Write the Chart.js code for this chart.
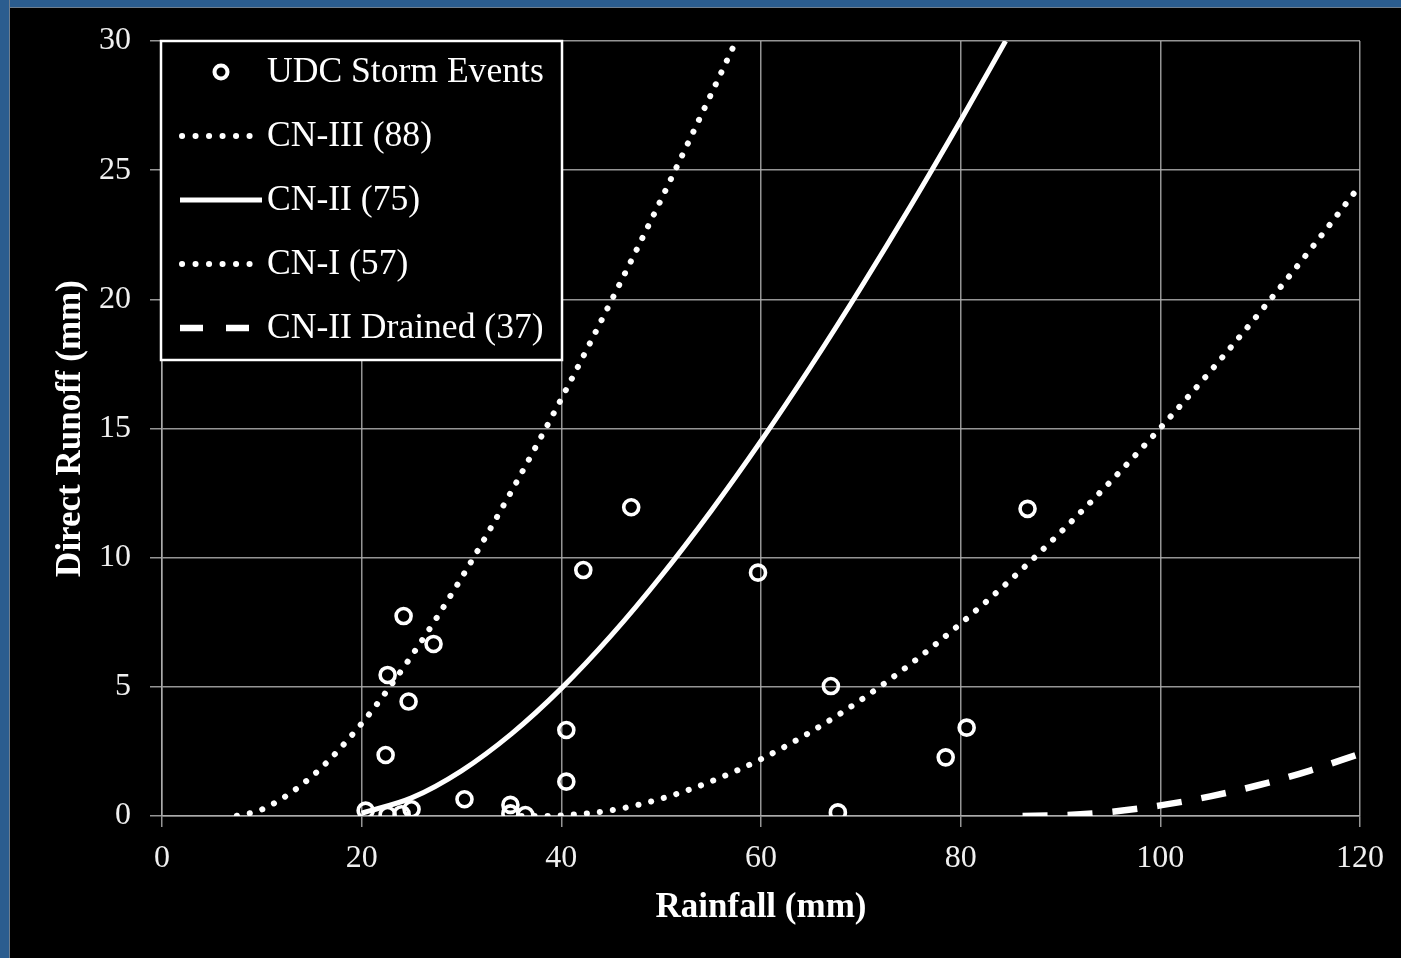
<!DOCTYPE html>
<html>
<head>
<meta charset="utf-8">
<script src="https://cdn.jsdelivr.net/npm/chart.js@4"></script>
<style>
  html, body { margin: 0; padding: 0; background: #000; overflow: hidden; }
  #wrap { position: relative; width: 1401px; height: 958px; background: #000; }
  #topband { position: absolute; left: 0; top: 0; width: 1401px; height: 7px; background: #2b5d8f; border-bottom: 1px solid #6f7f8f; }
  #leftband { position: absolute; left: 0; top: 0; width: 9px; height: 958px; background: #2b5d8f; border-right: 1px solid #6f7f8f; }
  canvas { position: absolute; left: 0; top: 0; }
</style>
</head>
<body>
<div id="wrap">
  <div id="topband"></div>
  <div id="leftband"></div>
  <canvas id="c" width="1401" height="958"></canvas>
</div>
<script>
// ---- Data ----
const xTicks = [0, 20, 40, 60, 80, 100, 120];
const yTicks = [0, 5, 10, 15, 20, 25, 30];

const seriesLabels = ["UDC Storm Events", "CN-III (88)", "CN-II (75)", "CN-I (57)", "CN-II Drained (37)"];

const obsRain   = [24.2, 27.2, 22.6, 24.7, 22.4, 20.4, 22.6, 24.0, 25.0, 30.3, 34.9, 34.9, 36.4, 40.5, 40.5, 42.2, 47.0, 59.7, 67.0, 67.7, 78.5, 80.6, 86.7];
const obsRunoff = [7.74, 6.66, 5.46, 4.43, 2.36, 0.21, 0.04, 0.07, 0.26, 0.65, 0.43, 0.10, 0.04, 1.33, 3.33, 9.52, 11.95, 9.42, 5.03, 0.14, 2.27, 3.42, 11.89];

const cn3Rain   = [7.5, 10, 15, 20, 25, 30, 35, 40, 45, 50, 55, 57.5];
const cn3Runoff = [0.01, 0.25, 1.53, 3.58, 6.20, 9.22, 12.57, 16.15, 19.94, 23.87, 27.94, 30.0];

const cn2Rain   = [20, 25, 30, 35, 40, 45, 50, 55, 60, 65, 70, 75, 80, 84.5];
const cn2Runoff = [0.11, 0.70, 1.75, 3.18, 4.94, 6.99, 9.29, 11.81, 14.52, 17.41, 20.45, 23.62, 26.92, 30.0];

const cn1Rain   = [36, 38.3, 40, 45, 50, 55, 60, 65, 70, 75, 80, 85, 90, 95, 100, 105, 110, 115, 120];
const cn1Runoff = [0, 0, 0.02, 0.22, 0.67, 1.34, 2.20, 3.26, 4.49, 5.89, 7.45, 9.14, 10.98, 12.94, 15.02, 17.21, 19.51, 21.91, 24.41];

const drainRain   = [86.2, 90, 95, 100, 105, 110, 115, 120];
const drainRunoff = [0, 0.03, 0.16, 0.41, 0.76, 1.21, 1.76, 2.41];

const xTitle = "Rainfall (mm)";
const yTitle = "Direct Runoff (mm)";

// ---- helpers ----
const pts = (xs, ys) => xs.map((x, i) => ({ x: x, y: ys[i] }));

const WHITE = '#ffffff';
const GRID = 'rgba(175,175,175,0.85)';
const serif = '"Liberation Serif", "Times New Roman", serif';

const dotDash = [0.1, 13];
const longDash = [25, 20];

const lineDs = (label, xs, ys, dash, width, cap) => ({
  label: label,
  data: pts(xs, ys),
  showLine: true,
  borderColor: WHITE,
  borderWidth: width,
  borderDash: dash,
  borderCapStyle: cap,
  pointRadius: 0,
  pointHoverRadius: 0,
  fill: false,
  cubicInterpolationMode: 'monotone'
});

// custom legend inside the plot
const insideLegend = {
  id: 'insideLegend',
  afterDraw(chart) {
    const ctx = chart.ctx;
    const box = { l: 161, t: 41, r: 562, b: 360 };
    ctx.save();
    ctx.fillStyle = '#000';
    ctx.fillRect(box.l, box.t, box.r - box.l, box.b - box.t);
    ctx.strokeStyle = WHITE;
    ctx.lineWidth = 2.5;
    ctx.strokeRect(box.l, box.t, box.r - box.l, box.b - box.t);

    const rows = [72, 136, 200, 264, 328];
    const ds = chart.data.datasets;
    ctx.font = '35.6px ' + serif;
    ctx.textBaseline = 'middle';
    ctx.textAlign = 'left';
    ds.forEach((d, i) => {
      const y = rows[i];
      ctx.strokeStyle = WHITE;
      if (i === 0) {
        ctx.beginPath();
        ctx.lineWidth = 4;
        ctx.setLineDash([]);
        ctx.arc(221, y, 6.5, 0, Math.PI * 2);
        ctx.stroke();
      } else {
        ctx.beginPath();
        ctx.lineWidth = d.borderWidth;
        ctx.setLineDash(d.borderDash || []);
        ctx.lineCap = d.borderCapStyle || 'butt';
        let x0 = 182, x1 = 252;
        if (i === 1 || i === 3) { ctx.setLineDash([0.1, 13.4]); }
        if (i === 2) { x0 = 180; x1 = 262; }
        if (i === 4) { x0 = 180; x1 = 250; ctx.setLineDash([23, 23]); }
        ctx.moveTo(x0, y);
        ctx.lineTo(x1, y);
        ctx.stroke();
      }
      ctx.setLineDash([]);
      ctx.fillStyle = WHITE;
      ctx.fillText(d.label, 267, y + 1);
    });
    ctx.restore();
  }
};

const chart = new Chart(document.getElementById('c'), {
  type: 'scatter',
  data: {
    datasets: [
      {
        label: seriesLabels[0],
        data: pts(obsRain, obsRunoff),
        pointStyle: 'circle',
        pointRadius: 7.5,
        pointHoverRadius: 7.5,
        pointBorderWidth: 3.6,
        borderColor: WHITE,
        backgroundColor: 'rgba(0,0,0,0)',
        showLine: false
      },
      lineDs(seriesLabels[1], cn3Rain, cn3Runoff, dotDash, 6, 'round'),
      lineDs(seriesLabels[2], cn2Rain, cn2Runoff, [], 5, 'butt'),
      lineDs(seriesLabels[3], cn1Rain, cn1Runoff, dotDash, 6, 'round'),
      lineDs(seriesLabels[4], drainRain, drainRunoff, longDash, 6.5, 'butt')
    ]
  },
  options: {
    responsive: false,
    animation: false,
    events: [],
    layout: { padding: { left: 0, top: 41, right: 41, bottom: 0 } },
    plugins: {
      legend: { display: false },
      tooltip: { enabled: false },
      title: { display: false }
    },
    scales: {
      x: {
        type: 'linear',
        min: xTicks[0],
        max: xTicks[xTicks.length - 1],
        afterFit(scale) { scale.height = 142; },
        afterBuildTicks(scale) { scale.ticks = xTicks.map(v => ({ value: v })); },
        grid: { color: GRID, lineWidth: 1.5, tickLength: 11, tickColor: GRID, drawTicks: true },
        border: { color: GRID, width: 1.5 },
        ticks: { color: '#f0f0f0', font: { family: serif, size: 32 }, padding: 12, maxRotation: 0 },
        title: { display: true, text: xTitle, color: WHITE, font: { family: serif, size: 35, weight: 'bold' }, padding: { top: 0, bottom: 29 } }
      },
      y: {
        type: 'linear',
        min: yTicks[0],
        max: yTicks[yTicks.length - 1],
        afterFit(scale) { scale.width = 162; },
        afterBuildTicks(scale) { scale.ticks = yTicks.map(v => ({ value: v })); },
        grid: { color: GRID, lineWidth: 1.5, tickLength: 12, tickColor: GRID, drawTicks: true },
        border: { color: GRID, width: 1.5 },
        ticks: { color: '#f0f0f0', font: { family: serif, size: 32 }, padding: 19 },
        title: { display: true, text: yTitle, color: WHITE, font: { family: serif, size: 35, weight: 'bold' }, padding: { top: 50, bottom: 0 } }
      }
    }
  },
  plugins: [insideLegend]
});
</script>
</body>
</html>
